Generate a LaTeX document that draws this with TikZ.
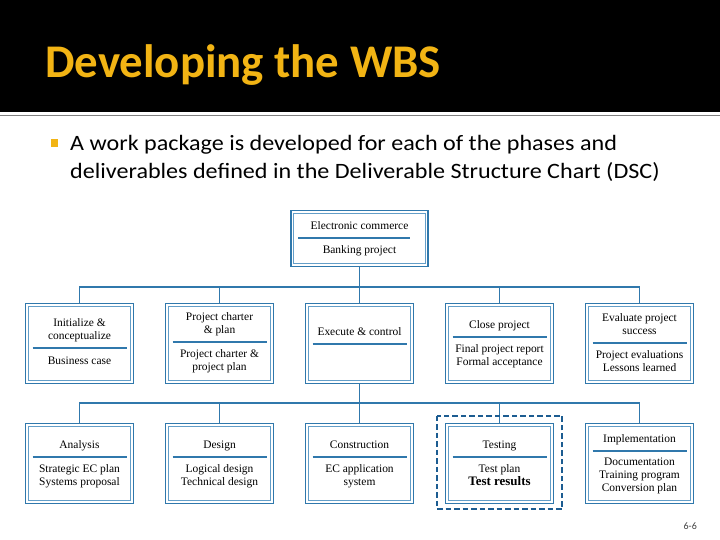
\documentclass[tikz,border=0pt]{standalone}
\usepackage{fontspec}
\setmainfont{Liberation Serif}
\newfontfamily\slidefont{Carlito}
\newfontfamily\bodyfont[FakeStretch=1.1]{Carlito}
\usetikzlibrary{calc}
\definecolor{wbsblue}{RGB}{48,120,172}
\definecolor{wbslight}{RGB}{100,158,200}
\definecolor{wbsgold}{RGB}{242,180,20}
\definecolor{frameblue}{RGB}{28,92,145}
\tikzset{wbsbox/.style = {draw=wbsblue, line width=1.3bp, fill=white,
                          minimum width=108bp, minimum height=80bp, inner sep=0},
         innerline/.style = {draw=wbslight, line width=1bp},
         uptext/.style = {anchor=south, align=center, inner sep=1bp, font=\fontsize{11.5}{13}\selectfont,
                          execute at begin node=\strut, execute at end node=\strut},
         lowtext/.style = {anchor=north, align=center, inner sep=1bp, font=\fontsize{11.5}{13}\selectfont,
                          execute at begin node=\strut, execute at end node=\strut},
         divline/.style = {draw=wbsblue, line width=1.2bp},
         link/.style = {draw=wbsblue, line width=1.2bp},
         testframe/.style = {draw=frameblue, line width=2.6bp, dash pattern=on 5.5bp off 3bp}}
\begin{document}
\begin{tikzpicture}[x=1bp, y=-1bp]
    \useasboundingbox (0,0) rectangle (720,540);
    \fill[black] (0,0) rectangle (720,112);
    \draw[gray, line width=1.5bp] (0,115.5) -- (720,115.5);
    \node[anchor=base west, inner sep=0, text=wbsgold,
          font=\slidefont\bfseries\fontsize{47}{52}\selectfont] (title) at (45,78) {Developing the WBS};
    \fill[wbsgold] (51,139) rectangle (58,147); % bullet
    \node[anchor=base west, inner sep=0, font=\bodyfont\fontsize{22}{28}\selectfont] (line1) at (70,151)
        {A work package is developed for each of the phases and};
    \node[anchor=base west, inner sep=0, font=\bodyfont\fontsize{22}{28}\selectfont] (line2) at (70,179)
        {deliverables defined in the Deliverable Structure Chart (DSC)};

    % root
    \node[wbsbox, minimum width=137bp, minimum height=56bp] (root) at (359.5,238.5) {};
    \draw[innerline] ([xshift=3.2bp,yshift=-3.2bp]root.north west) rectangle ([xshift=-3.2bp,yshift=3.2bp]root.south east);
    \draw[divline] (298,238) -- (410,238);
    \node[uptext] (root-up) at (359.5,235) {Electronic commerce};
    \node[lowtext] (root-low) at (359.5,243) {Banking project};

    % phases
    \foreach \n/\x/\d/\up/\low in {
        p1/79.5/348/{Initialize \&\\conceptualize}/{Business case},
        p2/219.5/342/{Project charter\\\& plan}/{Project charter \&\\project plan},
        p3/359.5/344/{Execute \& control}/{},
        p4/499.5/337/{Close project}/{Final project report\\Formal acceptance},
        p5/639.5/343/{Evaluate project\\success}/{Project evaluations\\Lessons learned}} {
        \node[wbsbox] (\n) at (\x,343.5) {};
        \draw[innerline] ([xshift=3.2bp,yshift=-3.2bp]\n.north west) rectangle ([xshift=-3.2bp,yshift=3.2bp]\n.south east);
        \draw[divline] (\x-47,\d) -- (\x+47,\d);
        \node[uptext] (\n-up) at (\x,\d-3) {\up};
        \node[lowtext] (\n-low) at (\x,\d+6) {\low};
    }

    % deliverables
    \foreach \n/\x/\d/\up/\low in {
        q1/79.5/457/{Analysis}/{Strategic EC plan\\Systems proposal},
        q2/219.5/457/{Design}/{Logical design\\Technical design},
        q3/359.5/457/{Construction}/{EC application\\system},
        q4/499.5/457/{Testing}/{Test plan\\{\bfseries\fontsize{13}{13}\selectfont Test results}},
        q5/639.5/451/{Implementation}/{Documentation\\Training program\\Conversion plan}} {
        \node[wbsbox] (\n) at (\x,463.5) {};
        \draw[innerline] ([xshift=3.2bp,yshift=-3.2bp]\n.north west) rectangle ([xshift=-3.2bp,yshift=3.2bp]\n.south east);
        \draw[divline] (\x-47,\d) -- (\x+47,\d);
        \node[uptext] (\n-up) at (\x,\d-3) {\up};
        \node[lowtext] (\n-low) at (\x,\d+6) {\low};
    }

    \coordinate (bus1) at (359.5,287);
    \draw[link] (root.south) -- (bus1);
    \foreach \n in {p1,p2,p3,p4,p5}
        \draw[link] (\n.north) |- (bus1);
    \coordinate (bus2) at (359.5,403);
    \draw[link] (p3.south) -- (bus2);
    \foreach \n in {q1,q2,q3,q4,q5}
        \draw[link] (\n.north) |- (bus2);

    \draw[testframe] ([xshift=-8bp,yshift=7bp]q4.north west) rectangle ([xshift=8bp,yshift=-5bp]q4.south east);
    \node[anchor=base east, inner sep=0, text=black!75, font=\slidefont\fontsize{10}{12}\selectfont] (pagenum)
        at (697,529) {6-6};
\end{tikzpicture}
\end{document}
